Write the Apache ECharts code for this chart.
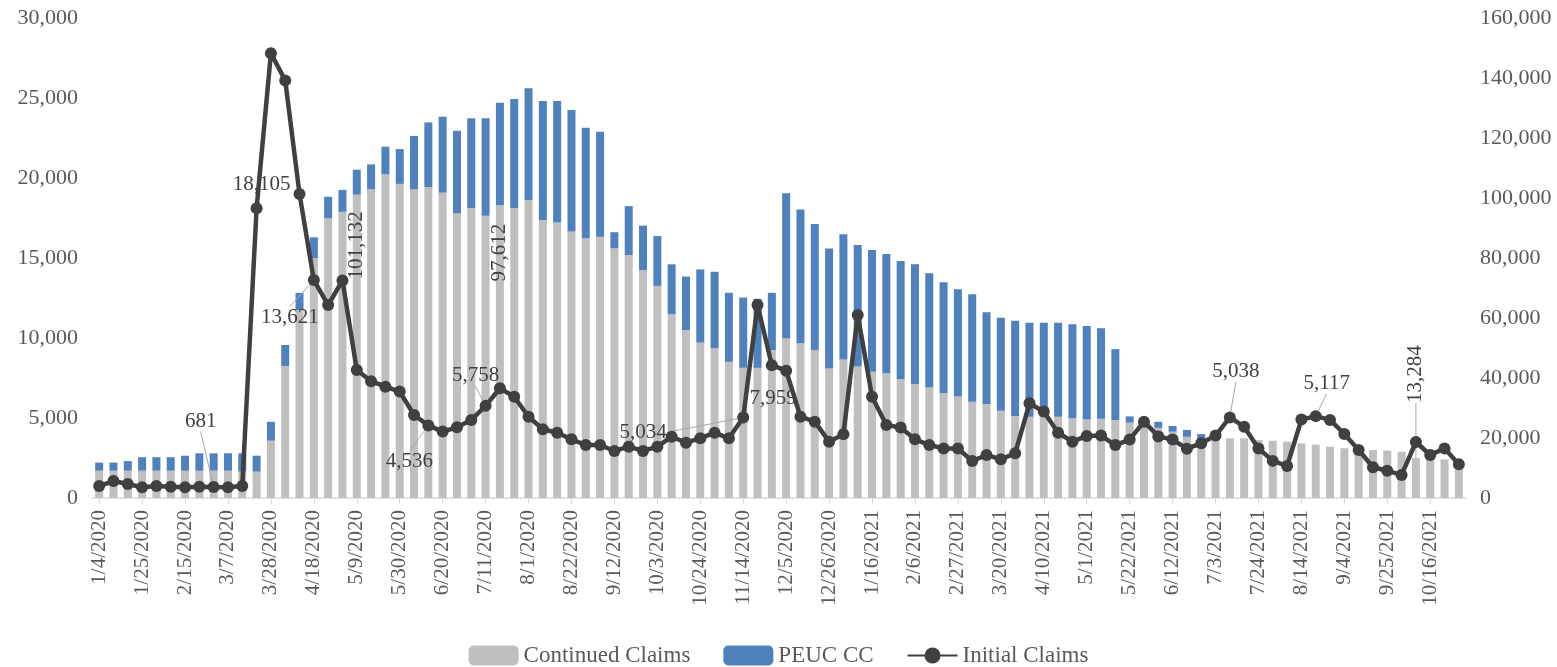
<!DOCTYPE html>
<html>
<head>
<meta charset="utf-8">
<title>Claims</title>
<script src="https://cdn.jsdelivr.net/npm/echarts@6/dist/echarts.min.js"></script>
<style>
	html, body { margin: 0; padding: 0; background: #fff; }
	#main { width: 1557px; height: 667px; }
</style>
</head>
<body>
<div id="main"></div>
<script type="text/javascript">
	// weekly dates
	var weeks = [
		'1/4/2020','1/11/2020','1/18/2020','1/25/2020','2/1/2020','2/8/2020','2/15/2020','2/22/2020','2/29/2020','3/7/2020',
		'3/14/2020','3/21/2020','3/28/2020','4/4/2020','4/11/2020','4/18/2020','4/25/2020','5/2/2020','5/9/2020','5/16/2020',
		'5/23/2020','5/30/2020','6/6/2020','6/13/2020','6/20/2020','6/27/2020','7/4/2020','7/11/2020','7/18/2020','7/25/2020',
		'8/1/2020','8/8/2020','8/15/2020','8/22/2020','8/29/2020','9/5/2020','9/12/2020','9/19/2020','9/26/2020','10/3/2020',
		'10/10/2020','10/17/2020','10/24/2020','10/31/2020','11/7/2020','11/14/2020','11/21/2020','11/28/2020','12/5/2020','12/12/2020',
		'12/19/2020','12/26/2020','1/2/2021','1/9/2021','1/16/2021','1/23/2021','1/30/2021','2/6/2021','2/13/2021','2/20/2021',
		'2/27/2021','3/6/2021','3/13/2021','3/20/2021','3/27/2021','4/3/2021','4/10/2021','4/17/2021','4/24/2021','5/1/2021',
		'5/8/2021','5/15/2021','5/22/2021','5/29/2021','6/5/2021','6/12/2021','6/19/2021','6/26/2021','7/3/2021','7/10/2021',
		'7/17/2021','7/24/2021','7/31/2021','8/7/2021','8/14/2021','8/21/2021','8/28/2021','9/4/2021','9/11/2021','9/18/2021',
		'9/25/2021','10/2/2021','10/9/2021','10/16/2021','10/23/2021','10/30/2021'
	];

	// right axis
	var continuedClaims = [
		9100, 9100, 9100, 9100, 9100, 9100, 9100, 9100, 9100, 9100,
		8800, 8800, 19100, 44000, 62700, 79900, 93200, 95400, 101132, 102900,
		107900, 104700, 102900, 103600, 101800, 94900, 96600, 94100, 97612, 96600,
		99300, 92700, 91800, 88800, 86600, 87100, 83200, 81000, 76000, 70700,
		61300, 56000, 51800, 49900, 45400, 43400, 43400, 49300, 53200, 51600,
		49300, 43200, 46200, 43800, 42100, 41600, 39600, 38000, 36800, 34900,
		33800, 32100, 31300, 29100, 27300, 27100, 27100, 27100, 26600, 26200,
		26400, 26000, 25100, 25000, 23400, 22100, 20400, 19600, 20000, 19900,
		19900, 19300, 19100, 18800, 18200, 17800, 17100, 16600, 16600, 16000,
		15800, 15400, 13284, 14000, 12900, 12500
	];
	var peucCC = [
		2700, 2700, 3200, 4500, 4500, 4500, 5000, 5800, 5800, 5800,
		6100, 5300, 6300, 7000, 5700, 7000, 7200, 7300, 8300, 8300,
		9200, 11600, 17800, 21600, 25300, 27500, 30000, 32500, 34100, 36400,
		37300, 39600, 40500, 40500, 36800, 35000, 5400, 16300, 14800, 16600,
		16600, 17800, 24400, 25500, 23000, 23400, 23000, 19100, 48400, 44600,
		42000, 40000, 41700, 40500, 40600, 39700, 39400, 39900, 38100, 37000,
		35800, 35800, 30600, 31000, 31800, 31300, 31300, 31300, 31300, 31100,
		30200, 23600, 2100, 1000, 2000, 1900, 2300, 1700, 0, 0,
		0, 0, 0, 0, 0, 0, 0, 0, 0, 0,
		0, 0, 0, 0, 0, 0
	];
	// left axis
	var initialClaims = [
		750, 1060, 875, 670, 750, 710, 670, 710, 681, 670,
		750, 18105, 27800, 26100, 19000, 13621, 12060, 13600, 8000, 7300,
		6960, 6650, 5190, 4536, 4150, 4420, 4880, 5758, 6860, 6330,
		5080, 4300, 4080, 3670, 3310, 3310, 2940, 3210, 2940, 3210,
		3830, 3460, 3730, 4080, 3730, 5034, 12060, 8300, 7959, 5080,
		4770, 3520, 3980, 11440, 6330, 4560, 4400, 3670, 3310, 3100,
		3100, 2310, 2690, 2420, 2790, 5920, 5400, 4080, 3520, 3880,
		3900, 3310, 3650, 4770, 3850, 3650, 3080, 3420, 3900, 5038,
		4460, 3100, 2320, 2000, 4900, 5117, 4880, 4000, 3000, 1920,
		1700, 1440, 3500, 2690, 3100, 2110
	];

	// which points get a data label, and how far the label is moved (dx, dy)
	var lineLabelMoves = {
		8: [-13, -66], 11: [5, -24], 15: [-24, 37], 23: [-19, 36], 27: [-10, -30],
		45: [-100, 15], 48: [-13, 28], 79: [6, -46], 85: [11, -33]
	};
	var lineLabelNoLeader = { 11: true, 48: true };
	// bar labels are turned 90deg, so the move is given along the text
	var barLabelMoves = { 18: [101, 0], 28: [99, 0], 92: [104, 0] };

	var serif = '"Liberation Serif", "Times New Roman", serif';

	var lineData = initialClaims.map(function (v, i) {
		if (!lineLabelMoves[i]) return v;
		return {
			value: v,
			label: { show: true },
			labelLine: { show: !lineLabelNoLeader[i] }
		};
	});
	var ccData = continuedClaims.map(function (v, i) {
		if (!barLabelMoves[i]) return v;
		return {
			value: v,
			label: { show: true },
			labelLine: { show: i === 92 }
		};
	});

	var option = {
		animation: false,
		textStyle: { fontFamily: serif },
		grid: { left: 92, right: 91, top: 18, bottom: 169 },
		legend: {
			bottom: -5,
			left: 'center',
			itemWidth: 50,
			itemHeight: 20,
			itemGap: 33,
			textStyle: { fontFamily: serif, fontSize: 23, color: '#595959' },
			data: [
				{ name: 'Continued Claims', icon: 'roundRect' },
				{ name: 'PEUC CC', icon: 'roundRect' },
				{ name: 'Initial Claims' }
			]
		},
		xAxis: {
			type: 'category',
			data: weeks,
			boundaryGap: true,
			axisLine: { lineStyle: { color: '#d9d9d9', width: 1.5 } },
			axisTick: { show: true, interval: 2, alignWithLabel: true, length: 6, lineStyle: { color: '#d9d9d9' } },
			axisLabel: { interval: 2, rotate: 90, fontFamily: serif, fontSize: 21, color: '#595959', margin: 12 }
		},
		yAxis: [
			{
				type: 'value',
				min: 0, max: 30000, interval: 5000,
				splitLine: { show: false },
				axisLine: { show: false },
				axisTick: { show: false },
				axisLabel: {
					fontFamily: serif, fontSize: 22, color: '#595959', margin: 14,
					formatter: function (v) { return v.toLocaleString('en-US'); }
				}
			},
			{
				type: 'value',
				min: 0, max: 160000, interval: 20000,
				splitLine: { show: false },
				axisLine: { show: false },
				axisTick: { show: false },
				axisLabel: {
					fontFamily: serif, fontSize: 22, color: '#595959', margin: 14,
					formatter: function (v) { return v.toLocaleString('en-US'); }
				}
			}
		],
		series: [
			{
				name: 'Continued Claims',
				type: 'bar',
				yAxisIndex: 1,
				stack: 'cc',
				barWidth: 8,
				itemStyle: { color: '#bfbfbf' },
				data: ccData,
				label: {
					show: false,
					position: 'inside',
					rotate: 90,
					fontFamily: serif, fontSize: 21, color: '#404040',
					formatter: function (p) { return p.value.toLocaleString('en-US'); }
				},
				labelLine: { show: false, lineStyle: { color: '#a6a6a6', width: 1 } },
				labelLayout: function (p) {
					var m = barLabelMoves[p.dataIndex];
					return m ? { dx: m[0], dy: m[1] } : {};
				}
			},
			{
				name: 'PEUC CC',
				type: 'bar',
				yAxisIndex: 1,
				stack: 'cc',
				barWidth: 8,
				itemStyle: { color: '#4f81bd' },
				data: peucCC
			},
			{
				name: 'Initial Claims',
				type: 'line',
				yAxisIndex: 0,
				z: 5,
				symbol: 'circle',
				symbolSize: 12,
				showAllSymbol: true,
				lineStyle: { color: '#404040', width: 4.5 },
				itemStyle: { color: '#404040' },
				data: lineData,
				label: {
					show: false,
					position: 'inside',
					fontFamily: serif, fontSize: 21, color: '#404040',
					formatter: function (p) { return p.value.toLocaleString('en-US'); }
				},
				labelLine: { show: false, lineStyle: { color: '#a6a6a6', width: 1 } },
				labelLayout: function (p) {
					var m = lineLabelMoves[p.dataIndex];
					return m ? { dx: m[0], dy: m[1] } : {};
				}
			}
		]
	};

	var myChart = echarts.init(document.getElementById('main'));
	myChart.setOption(option);
</script>
</body>
</html>
